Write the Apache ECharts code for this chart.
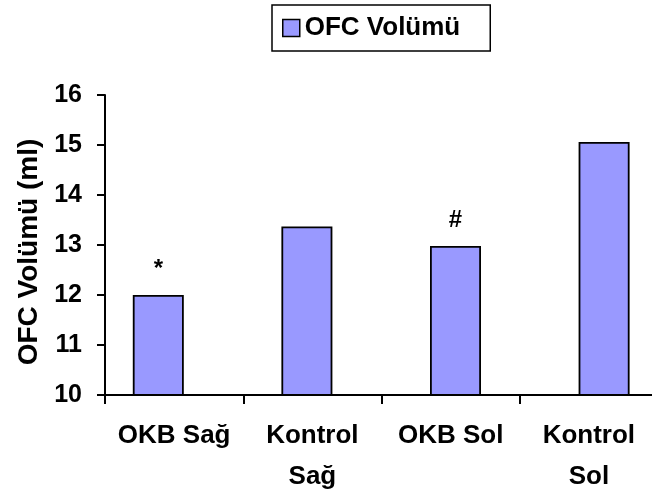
<!DOCTYPE html>
<html>
<head>
<meta charset="utf-8">
<style>html,body{margin:0;padding:0;background:#fff;overflow:hidden;width:652px;height:491px;}#c{width:720px;height:491px;}</style>
<script src="https://cdn.jsdelivr.net/npm/echarts@6/dist/echarts.min.js"></script>
</head>
<body>
<div id="c"></div>
<script>
var categories = ['OKB Sağ', 'Kontrol\nSağ', 'OKB Sol', 'Kontrol\nSol'];
var values = [12.0, 13.37, 12.98, 15.06];
var annotations = ['*', '', '#', ''];
var yTicks = [10, 11, 12, 13, 14, 15, 16];
var seriesName = 'OFC Volümü';
var yTitle = 'OFC Volümü (ml)';

var FONT = 'Liberation Sans, Arial, sans-serif';
var chart = echarts.init(document.getElementById('c'), null, {renderer: 'canvas'});
chart.setOption({
  animation: false,
  backgroundColor: '#fff',
  legend: {
    data: [seriesName],
    left: 272, top: 5,
    padding: [10, 30, 10, 10],
    borderColor: '#000', borderWidth: 1.5,
    icon: 'rect', itemWidth: 17, itemHeight: 17,
    itemStyle: {color: '#9999FF', borderColor: '#000', borderWidth: 1.5},
    textStyle: {fontFamily: FONT, fontWeight: 'bold', fontSize: 26, color: '#000'}
  },
  grid: [
    {left: 105, top: 95, width: 553, height: 300, outerBoundsMode: 'none', containLabel: false},
    {left: 84, top: 95, width: 594.4, height: 300, outerBoundsMode: 'none', containLabel: false}
  ],
  xAxis: [
    {
      gridIndex: 0, type: 'category', data: categories, boundaryGap: true,
      axisLine: {lineStyle: {color: '#000', width: 2}},
      axisTick: {show: true, length: 9, lineStyle: {color: '#000', width: 2}},
      axisLabel: {interval: 0, margin: 20, fontFamily: FONT, fontWeight: 'bold', fontSize: 26, lineHeight: 41, color: '#000'},
      splitLine: {show: false}
    },
    {
      gridIndex: 1, type: 'category', data: categories, boundaryGap: true,
      show: false
    }
  ],
  yAxis: [
    {
      gridIndex: 0, type: 'value', min: 10, max: 16, interval: 1,
      name: yTitle, nameLocation: 'middle', nameGap: 61, nameRotate: 90,
      nameTextStyle: {fontFamily: FONT, fontWeight: 'bold', fontSize: 28, color: '#000', padding: [0, 14, 0, 0]},
      axisLine: {show: true, lineStyle: {color: '#000', width: 2}},
      axisTick: {show: true, length: 8, lineStyle: {color: '#000', width: 2}},
      axisLabel: {margin: 23, fontFamily: FONT, fontWeight: 'bold', fontSize: 25, color: '#000',
        formatter: function (v) { return yTicks.indexOf(v) >= 0 ? String(v) : ''; }},
      splitLine: {show: false}
    },
    {
      gridIndex: 1, type: 'value', min: 10, max: 16, interval: 1, show: false,
      splitLine: {show: false}
    }
  ],
  series: [{
    name: seriesName,
    type: 'bar',
    xAxisIndex: 1, yAxisIndex: 1,
    data: values,
    barWidth: 51,
    itemStyle: {color: '#9999FF', borderColor: '#000', borderWidth: 1.8},
    label: {
      show: true, position: 'top', distance: 14,
      fontFamily: FONT, fontWeight: 'bold', fontSize: 24, color: '#000',
      formatter: function (p) { return annotations[p.dataIndex]; }
    }
  }]
});
</script>
</body>
</html>
